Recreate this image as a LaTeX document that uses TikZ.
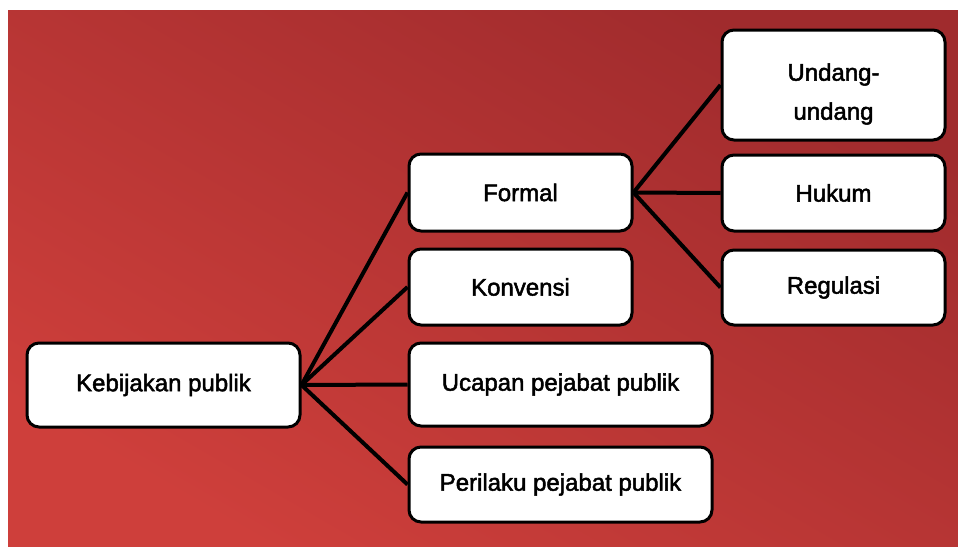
\documentclass[tikz,border=0pt]{standalone}
\usepackage{fontspec}
\setmainfont{Liberation Sans}
\newfontfamily\boxfont{Liberation Sans}[FakeBold=2]
\usetikzlibrary{positioning}
\definecolor{redlight}{RGB}{206,63,59}
\definecolor{reddark}{RGB}{160,43,45}
\tikzset{
  box/.style={draw=black, line width=3pt, fill=white, rounded corners=12pt,
    inner sep=0pt, align=center, font=\boxfont\fontsize{24}{39}\selectfont},
  link/.style={draw=black, line width=4pt}
}
\begin{document}
\begin{tikzpicture}[x=1pt, y=-1pt]
            %Background
            \useasboundingbox (0,0) rectangle (958,546);
            \fill[white] (0,0) rectangle (958,546);
            \shade[left color=redlight, right color=reddark, shading angle=150]
              (8,10) rectangle (958,546);

            %Nodes
            \node[box, minimum width=273pt, minimum height=84pt] at (163.5,385) (KP) {Kebijakan publik};
            \node[box, minimum width=223pt, minimum height=77pt] at (520.5,192.5) (Fo) {Formal};
            \node[box, minimum width=223pt, minimum height=76pt] at (520.5,287) (Ko) {Konvensi};
            \node[box, minimum width=303pt, minimum height=83pt] at (560.5,384.5) (Uc) {Ucapan pejabat publik};
            \node[box, minimum width=303pt, minimum height=75pt] at (560.5,484.5) (Pe) {Perilaku pejabat publik};
            \node[box, minimum width=223pt, minimum height=110pt, label={[yshift=-9pt, align=center,
              font=\boxfont\fontsize{24}{39}\selectfont]center:Undang-\\undang}] at (833.5,85) (UU) {};
            \node[box, minimum width=223pt, minimum height=76pt] at (833.5,193) (Hu) {Hukum};
            \node[box, minimum width=223pt, minimum height=75pt] at (833.5,287.5) (Re) {Regulasi};

            %Lines
            \draw[link] (KP.east) -- (Fo.west);
            \draw[link] (KP.east) -- (Ko.west);
            \draw[link] (KP.east) -- (Uc.west);
            \draw[link] (KP.east) -- (Pe.west);
            \draw[link] (Fo.east) -- (UU.west);
            \draw[link] (Fo.east) -- (Hu.west);
            \draw[link] (Fo.east) -- (Re.west);
        \end{tikzpicture}
\end{document}
